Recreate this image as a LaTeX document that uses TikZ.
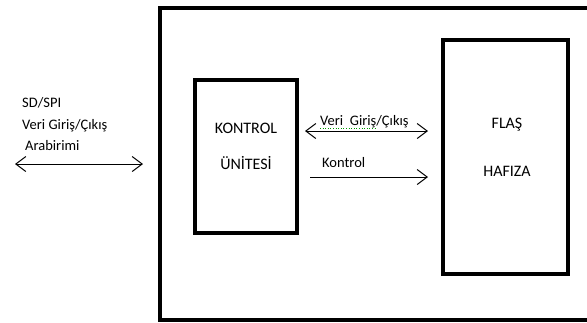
\documentclass[tikz,border=0pt]{standalone}
\usepackage{fontspec}
\setmainfont{Carlito}
\usetikzlibrary{arrows.meta}
\begin{document}
\begin{tikzpicture}[x=1pt,y=-1pt,
  frame/.style={draw=black,line width=4.5pt},
  block/.style={draw=black,line width=4pt},
  lbl/.style={font=\fontsize{14.5}{17}\selectfont,inner sep=0pt,anchor=base west},
  blbl/.style={font=\fontsize{16}{19}\selectfont,inner sep=0pt,anchor=base},
  conn/.style={line width=1pt,-{Straight Barb[length=10pt,width=15pt,line width=1pt]}},
  biconn/.style={line width=1pt,{Straight Barb[length=10pt,width=15pt,line width=1pt]}-{Straight Barb[length=10pt,width=15pt,line width=1pt]}}]
\useasboundingbox (0,0) rectangle (587,322);
\begin{scope}
\clip (0,0) rectangle (587,322);
% outer device frame
\draw[frame] (160,8) rectangle (590,320);
\end{scope}
% control unit and flash memory blocks
\draw[block] (195,80) rectangle (297,233);
\draw[block] (443,40) rectangle (568,274);
\node[blbl] (k1) at (246,133) {KONTROL};
\node[blbl] (k2) at (246,169) {ÜNİTESİ};
\node[blbl] (f1) at (507,128) {FLAŞ};
\node[blbl] (f2) at (507,176) {HAFIZA};
% external interface
\node[lbl] (t1) at (22,107) {SD/SPI};
\node[lbl] (t2) at (22,129) {Veri Giriş/Çıkış};
\node[lbl] (t3) at (25,150) {Arabirimi};
\coordinate (ea) at (15,164);
\coordinate (eb) at (143,164);
\draw[biconn] (ea) -- (eb);
% internal buses
\coordinate (va) at (305,131);
\coordinate (vb) at (428,131);
\draw[biconn] (va) -- (vb);
\node[lbl] (vl) at (320,125) {Veri\ \ Giriş/Çıkış};
\draw[green!60!black,line width=0.6pt,dotted] (320,128) -- (376,128);
\coordinate (ca) at (310,177);
\coordinate (cb) at (428,177);
\draw[conn] (ca) -- (cb);
\node[lbl] (cl) at (322,167) {Kontrol};
\end{tikzpicture}
\end{document}
